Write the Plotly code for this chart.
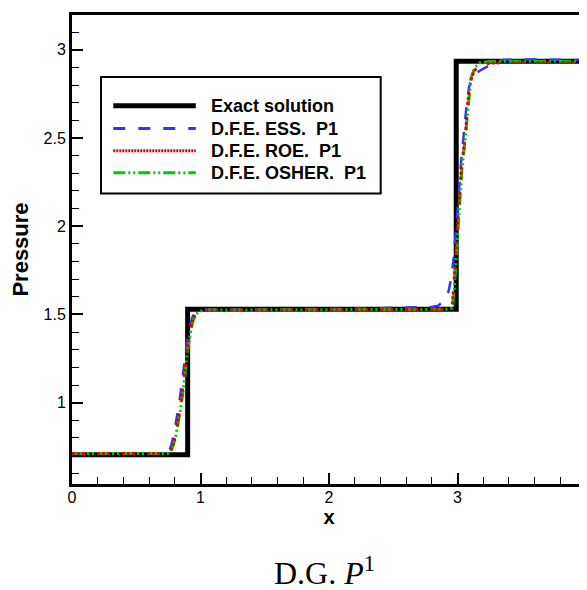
import plotly.graph_objects as go

# ---------------- data ----------------
x_exact = [0.0, 0.9, 0.9, 2.99, 2.99, 4.0]
p_exact = [0.705, 0.705, 1.529, 1.529, 2.935, 2.935]

x_ess = [0.0, 0.70, 0.735, 0.755, 0.775, 0.795, 0.815, 0.835, 0.855, 0.875, 0.895, 0.915,
         0.935, 0.955, 0.975, 1.005, 1.06, 1.5, 2.0, 2.4, 2.6, 2.8, 2.85, 2.90, 2.93, 2.95,
         2.97, 2.99, 3.01, 3.03, 3.05, 3.07, 3.09, 3.12, 3.17, 3.22, 3.28, 3.35, 3.5, 4.0]
p_ess = [0.711, 0.711, 0.713, 0.725, 0.765, 0.83, 0.91, 1.00, 1.11, 1.23, 1.34, 1.43,
         1.48, 1.51, 1.522, 1.527, 1.528, 1.528, 1.53, 1.535, 1.54, 1.542, 1.55, 1.58, 1.63, 1.70,
         1.82, 1.98, 2.18, 2.38, 2.55, 2.68, 2.79, 2.85, 2.88, 2.90, 2.925, 2.942, 2.945, 2.942]

x_roe = [0.0, 0.70, 0.74, 0.76, 0.78, 0.80, 0.82, 0.84, 0.86, 0.88, 0.90, 0.92, 0.94,
         0.96, 0.98, 1.01, 1.06, 1.5, 2.0, 2.5, 2.8, 2.92, 2.95, 2.96, 2.97, 2.99, 3.01,
         3.03, 3.05, 3.065, 3.08, 3.10, 3.13, 3.17, 3.25, 3.4, 4.0]
p_roe = [0.711, 0.711, 0.712, 0.72, 0.75, 0.80, 0.87, 0.96, 1.07, 1.20, 1.32, 1.41, 1.47,
         1.50, 1.515, 1.521, 1.524, 1.525, 1.525, 1.525, 1.526, 1.528, 1.535, 1.56, 1.65, 1.88, 2.12,
         2.33, 2.45, 2.55, 2.70, 2.82, 2.88, 2.912, 2.924, 2.928, 2.928]

x_osher = [0.0, 0.70, 0.745, 0.765, 0.785, 0.805, 0.825, 0.845, 0.865, 0.885, 0.905, 0.925,
           0.945, 0.965, 0.985, 1.015, 1.07, 1.5, 2.0, 2.5, 2.8, 2.93, 2.955, 2.965, 2.975,
           2.995, 3.015, 3.035, 3.055, 3.07, 3.085, 3.105, 3.135, 3.17, 3.25, 3.4, 4.0]
p_osher = [0.711, 0.711, 0.712, 0.72, 0.75, 0.80, 0.87, 0.96, 1.07, 1.20, 1.32, 1.41, 1.47,
           1.50, 1.515, 1.522, 1.525, 1.526, 1.526, 1.526, 1.527, 1.529, 1.535, 1.56, 1.65, 1.88,
           2.12, 2.33, 2.46, 2.57, 2.72, 2.84, 2.90, 2.925, 2.933, 2.935, 2.935]

series_names = ["Exact solution", "D.F.E. ESS.&nbsp;&nbsp;P1", "D.F.E. ROE.&nbsp;&nbsp;P1",
                "D.F.E. OSHER.&nbsp;&nbsp;P1"]

x_tickvals = [0, 1, 2, 3, 4]
x_ticktext = ["0", "1", "2", "3", "4"]
y_tickvals = [1.0, 1.5, 2.0, 2.5, 3.0]
y_ticktext = ["1", "1.5", "2", "2.5", "3"]

x_title = "x"
y_title = "Pressure"
caption = "D.G. <i>P</i><sup>1</sup>"

# ---------------- styles ----------------
styles = [
    dict(color="black", width=5, dash="solid"),
    dict(color="rgb(50,50,255)", width=2.5, dash="12px,13px"),
    dict(color="rgb(230,0,0)", width=3, dash="3px,2px,3px,2px,3px,12px"),
    dict(color="rgb(0,200,0)", width=3, dash="12px,3px,2px,3px,2px,3px"),
]
legend_dash = ["solid", "12px,13px", "2px,1px", "12px,3px,2px,3px,2px,3px"]
legend_width = [5, 3, 3, 3]

fig = go.Figure()
data = [(x_exact, p_exact), (x_ess, p_ess), (x_roe, p_roe), (x_osher, p_osher)]
order = [0, 1, 3, 2]  # black, blue, green, red on top
for i in order:
    xs, ps = data[i]
    fig.add_trace(go.Scatter(x=xs, y=ps, mode="lines", name=series_names[i],
                             line=styles[i], showlegend=False))

# ---------------- layout ----------------
L, R, T, B = 62, 6, 4, 114
W, H = 587, 590
pw, ph = W - L - R, H - T - B


def px2paper_x(px):
    return (px - L) / pw


def px2paper_y(py):
    return (H - B - py) / ph


sans = "Liberation Sans, Arial, Helvetica, sans-serif"
axis_font = dict(family=sans, size=16, color="black")

fig.update_layout(
    width=W, height=H,
    margin=dict(l=L, r=R, t=T, b=B, pad=0),
    paper_bgcolor="white", plot_bgcolor="white",
    showlegend=False,
    xaxis=dict(range=[0, 4], tickvals=x_tickvals, ticktext=x_ticktext,
               ticks="inside", ticklen=11, tickwidth=2, tickcolor="black",
               minor=dict(dtick=0.2, ticks="inside", ticklen=7, tickwidth=1, tickcolor="black",
                          showgrid=False),
               showline=True, linewidth=3, linecolor="black", mirror=True,
               showgrid=False, zeroline=False, tickfont=axis_font, ticklabelstandoff=-3,
               title=dict(text="<b>%s</b>" % x_title, standoff=1,
                          font=dict(family=sans, size=20, color="black"))),
    yaxis=dict(range=[0.539, 3.197], tickvals=y_tickvals, ticktext=y_ticktext,
               ticks="inside", ticklen=11, tickwidth=2, tickcolor="black",
               minor=dict(dtick=0.1, tick0=0, ticks="inside", ticklen=7, tickwidth=1,
                          tickcolor="black", showgrid=False),
               showline=True, linewidth=3, linecolor="black", mirror=False,
               showgrid=False, zeroline=False, tickfont=axis_font,
               title=dict(text="<b>%s</b>" % y_title, standoff=16,
                          font=dict(family=sans, size=22, color="black"))),
)

# ---------------- legend box (drawn) ----------------
box = dict(x0=px2paper_x(91.3), x1=px2paper_x(373.7),
           y0=px2paper_y(183.7), y1=px2paper_y(66.3))
fig.add_shape(type="rect", xref="paper", yref="paper", **box,
              line=dict(color="black", width=2), fillcolor="white", layer="above")
rows = [95.3, 118.3, 140.5, 162.7]
for i, name in enumerate(series_names):
    yy = px2paper_y(rows[i])
    fig.add_shape(type="line", xref="paper", yref="paper",
                  x0=px2paper_x(103.7), x1=px2paper_x(187), y0=yy, y1=yy, layer="above",
                  line=dict(color=styles[i]["color"], width=legend_width[i],
                            dash=legend_dash[i]))
    fig.add_annotation(xref="paper", yref="paper", x=px2paper_x(200), y=yy,
                       xanchor="left", yanchor="middle", showarrow=False,
                       text="<b>%s</b>" % name,
                       font=dict(family=sans, size=18, color="black"))

fig.add_annotation(xref="paper", yref="paper", x=px2paper_x(317), y=px2paper_y(564),
                   xanchor="center", yanchor="middle", showarrow=False, text=caption,
                   font=dict(family="Liberation Serif, Times New Roman, serif", size=32,
                             color="black"))

fig.write_html("out.html")
